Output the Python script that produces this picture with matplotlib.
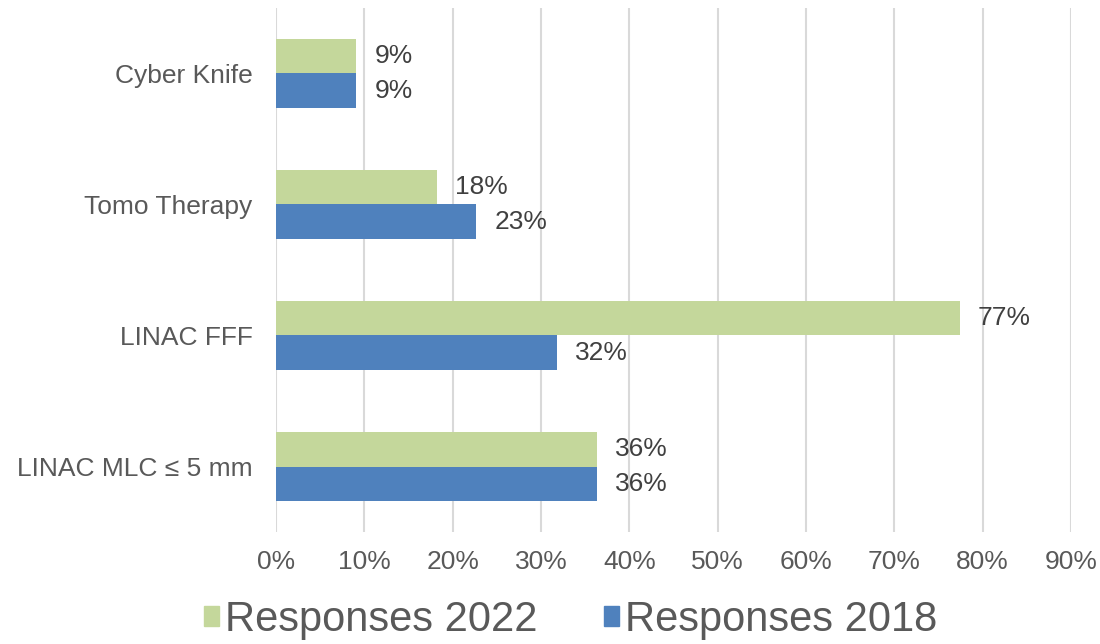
import matplotlib.pyplot as plt
from matplotlib.patches import Patch
from matplotlib.ticker import PercentFormatter
import numpy as np

plt.rcParams['font.family'] = ['Liberation Sans', 'DejaVu Sans']

# categories listed bottom to top
categories = ["LINAC MLC \u2264 5 mm", "LINAC FFF", "Tomo Therapy", "Cyber Knife"]
responses_2022 = [36.3, 77.4, 18.2, 9.1]
responses_2018 = [36.3, 31.8, 22.7, 9.1]
labels_2022 = ["36%", "77%", "18%", "9%"]
labels_2018 = ["36%", "32%", "23%", "9%"]

GREEN = "#C4D79B"
BLUE = "#4F81BD"

fig = plt.figure(figsize=(11, 6.44), dpi=100)
ax = fig.add_axes([0.2509, 0.1739, 0.7227, 0.8137])

y = np.arange(len(categories))
h = 0.263
ax.barh(y + h / 2, responses_2022, height=h, color=GREEN, zorder=3)
ax.barh(y - h / 2, responses_2018, height=h, color=BLUE, zorder=3)

for yi, v, t in zip(y, responses_2022, labels_2022):
    ax.annotate(t, (v, yi + h / 2), xytext=(13, 0), textcoords="offset points",
                va="center", ha="left", fontsize=19, color="#404040")
for yi, v, t in zip(y, responses_2018, labels_2018):
    ax.annotate(t, (v, yi - h / 2), xytext=(13, 0), textcoords="offset points",
                va="center", ha="left", fontsize=19, color="#404040")

ax.set_xlim(0, 90)
ax.set_ylim(-0.5, 3.5)
ax.set_xticks(np.arange(0, 91, 10))
ax.xaxis.set_major_formatter(PercentFormatter(decimals=0))
ax.set_yticks(y)
ax.set_yticklabels(categories)
ax.tick_params(axis="x", length=0, pad=13, labelsize=19, labelcolor="#595959")
ax.tick_params(axis="y", length=0, pad=17, labelsize=19, labelcolor="#595959")
ax.grid(axis="x", color="#D9D9D9", linewidth=1.5, zorder=0)
for s in ax.spines.values():
    s.set_visible(False)

handles = [Patch(color=GREEN, label="Responses 2022"),
           Patch(color=BLUE, label="Responses 2018")]
leg = fig.legend(handles=handles, loc="center", bbox_to_anchor=(0.519, 0.037),
                 ncol=2, frameon=False, fontsize=30, handlelength=0.35,
                 handleheight=0.35, handletextpad=0.15, columnspacing=1.6)
for t in leg.get_texts():
    t.set_color("#595959")

fig.savefig("out.png", dpi=100)
